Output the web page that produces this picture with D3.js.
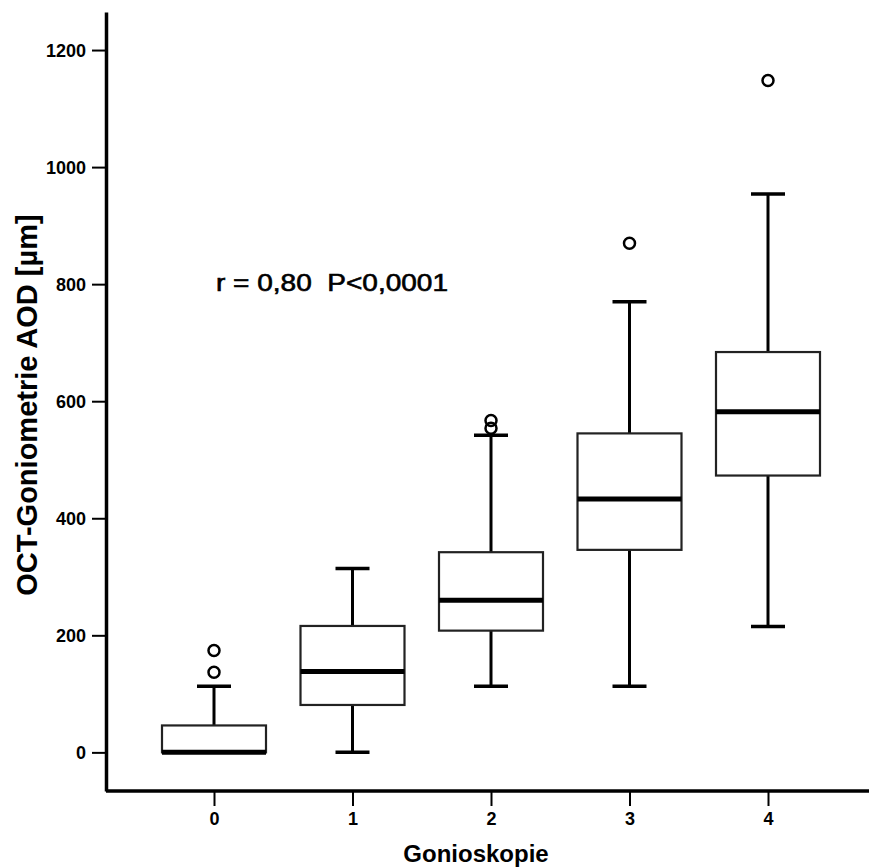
<!DOCTYPE html>
<html>
<head>
<meta charset="utf-8">
<script src="https://cdn.jsdelivr.net/npm/d3@7"></script>
<style>
    body { margin: 0; background: #fff; }
    text { font-family: "Liberation Sans", Arial, sans-serif; fill: #000; }
</style>
</head>
<body>
<svg class="chart"></svg>
<script>
(function () {
    // data
    const categories = ["0", "1", "2", "3", "4"];
    const whiskerLow = [0, 0, 113, 113, 215];
    const q1 = [0, 81, 208, 346, 473];
    const median = [0, 138, 260, 433, 582];
    const q3 = [46, 216, 342, 545, 684];
    const whiskerHigh = [113, 314, 542, 770, 954];
    const outliers = [[174, 137], [], [567, 554], [870], [1148]];
    const yTicks = [0, 200, 400, 600, 800, 1000, 1200];

    const width = 869;
    const height = 868;
    const boxWidth = 104;
    const capWidth = 34;

    let svg = d3.select("svg.chart")
        .attr("width", width)
        .attr("height", height);

    let x = d3.scalePoint()
        .domain(categories)
        .range([214, 768]);

    let y = d3.scaleLinear()
        .domain([-66, 1265])
        .range([791, 12]);

    // y axis
    let yAxis = svg.append("g")
        .attr("transform", "translate(106,0)")
        .call(d3.axisLeft(y).tickValues(yTicks).tickFormat(d3.format("d"))
            .tickSize(14).tickPadding(6).tickSizeOuter(0));
    yAxis.select(".domain").attr("stroke", "#000").attr("stroke-width", 3.5);
    yAxis.selectAll(".tick line").attr("stroke-width", 2);
    yAxis.selectAll(".tick text")
        .attr("font-size", 18)
        .attr("font-weight", "bold")
        .attr("font-family", "Liberation Sans, Arial, sans-serif")
        .attr("dy", "0.36em");

    // x axis
    let xAxis = svg.append("g")
        .attr("transform", "translate(0,791)")
        .call(d3.axisBottom(x).tickSize(15).tickPadding(6).tickSizeOuter(0));
    xAxis.select(".domain")
        .attr("d", "M106,0H" + width)
        .attr("stroke", "#000").attr("stroke-width", 3.5);
    xAxis.selectAll(".tick line").attr("stroke-width", 2);
    xAxis.selectAll(".tick text")
        .attr("font-size", 18)
        .attr("font-weight", "bold")
        .attr("font-family", "Liberation Sans, Arial, sans-serif");

    // boxes
    let box = svg.append("g").selectAll("g.box")
        .data(categories)
        .enter().append("g")
        .attr("class", "box");

    // whiskers
    box.append("line")
        .attr("x1", function (d) { return x(d); })
        .attr("x2", function (d) { return x(d); })
        .attr("y1", function (d, i) { return y(q3[i]); })
        .attr("y2", function (d, i) { return y(whiskerHigh[i]); })
        .attr("stroke", "#000").attr("stroke-width", 3);
    box.append("line")
        .attr("x1", function (d) { return x(d); })
        .attr("x2", function (d) { return x(d); })
        .attr("y1", function (d, i) { return y(q1[i]); })
        .attr("y2", function (d, i) { return y(whiskerLow[i]); })
        .attr("stroke", "#000").attr("stroke-width", 3);

    // caps
    [whiskerHigh, whiskerLow].forEach(function (arr) {
        box.append("line")
            .attr("x1", function (d) { return x(d) - capWidth / 2; })
            .attr("x2", function (d) { return x(d) + capWidth / 2; })
            .attr("y1", function (d, i) { return y(arr[i]); })
            .attr("y2", function (d, i) { return y(arr[i]); })
            .attr("stroke", "#000").attr("stroke-width", 3.5);
    });

    box.append("rect")
        .attr("x", function (d) { return x(d) - boxWidth / 2; })
        .attr("y", function (d, i) { return y(q3[i]); })
        .attr("width", boxWidth)
        .attr("height", function (d, i) { return y(q1[i]) - y(q3[i]); })
        .attr("fill", "#fff")
        .attr("stroke", "#222")
        .attr("stroke-width", 2.2);

    box.append("line")
        .attr("x1", function (d) { return x(d) - boxWidth / 2; })
        .attr("x2", function (d) { return x(d) + boxWidth / 2; })
        .attr("y1", function (d, i) { return y(median[i]); })
        .attr("y2", function (d, i) { return y(median[i]); })
        .attr("stroke", "#000").attr("stroke-width", 5);

    // outliers
    box.selectAll("circle")
        .data(function (d, i) { return outliers[i].map(function (v) { return { cat: d, v: v }; }); })
        .enter().append("circle")
        .attr("cx", function (d) { return x(d.cat); })
        .attr("cy", function (d) { return y(d.v); })
        .attr("r", 5.5)
        .attr("fill", "none")
        .attr("stroke", "#000")
        .attr("stroke-width", 2.5);

    // annotation
    svg.append("text")
        .attr("x", 216)
        .attr("y", 291)
        .attr("font-size", 23)
        .attr("textLength", 232)
        .attr("lengthAdjust", "spacingAndGlyphs")
        .attr("stroke", "#000")
        .attr("stroke-width", 0.6)
        .attr("xml:space", "preserve")
        .text("r = 0,80  P<0,0001");

    // axis titles
    svg.append("text")
        .attr("transform", "translate(37,405) rotate(-90)")
        .attr("text-anchor", "middle")
        .attr("font-size", 29)
        .attr("font-weight", "bold")
        .text("OCT-Goniometrie AOD [µm]");

    svg.append("text")
        .attr("x", 476)
        .attr("y", 862)
        .attr("text-anchor", "middle")
        .attr("font-size", 24)
        .attr("font-weight", "bold")
        .text("Gonioskopie");
}());
</script>
</body>
</html>
